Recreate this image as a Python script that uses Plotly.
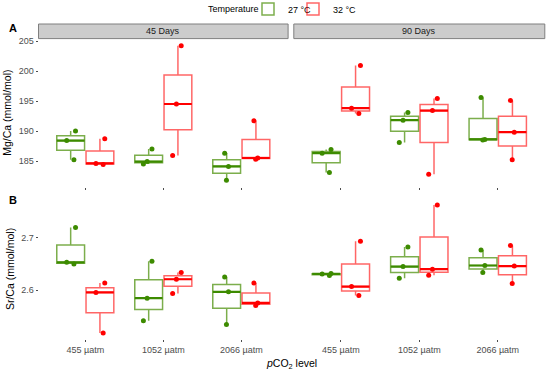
import plotly.graph_objects as go

cats = ["455 µatm", "1052 µatm", "2066 µatm"]
temps = ["27 °C", "32 °C"]
days = ["45 Days", "90 Days"]

# Mg/Ca values: [cat] -> 3 replicates
mg_45_27 = [[185.2, 188.4, 190.0], [184.5, 184.9, 187.0], [181.8, 184.1, 186.3]]
mg_45_32 = [[184.4, 184.6, 188.7], [185.9, 194.5, 204.2], [185.3, 185.5, 191.7]]
mg_90_27 = [[183.1, 186.3, 186.9], [188.1, 191.8, 193.1], [188.5, 188.6, 195.6]]
mg_90_32 = [[192.9, 193.8, 200.9], [182.8, 193.4, 195.4], [185.2, 189.8, 195.1]]

# Sr/Ca values
sr_45_27 = [[2.650, 2.653, 2.719], [2.542, 2.585, 2.655], [2.535, 2.597, 2.625]]
sr_45_32 = [[2.519, 2.596, 2.614], [2.594, 2.621, 2.634], [2.571, 2.576, 2.614]]
sr_90_27 = [[2.628, 2.631, 2.632], [2.623, 2.645, 2.682], [2.634, 2.647, 2.6765]]
sr_90_32 = [[2.590, 2.607, 2.693], [2.6285, 2.640, 2.762], [2.613, 2.646, 2.685]]

point_col = {"27 °C": "#3D8B00", "32 °C": "#FF0000"}
line_col = {"27 °C": "rgba(69,139,0,0.7)", "32 °C": "rgba(255,0,0,0.6)"}
legend_ref = {"27 °C": "legend", "32 °C": "legend2"}

panels = [
    (mg_45_27, mg_45_32, "x", "y"),
    (mg_90_27, mg_90_32, "x2", "y"),
    (sr_45_27, sr_45_32, "x3", "y2"),
    (sr_90_27, sr_90_32, "x4", "y2"),
]

fig = go.Figure()
first = True
for d27, d32, xa, ya in panels:
    for temp, data in zip(temps, [d27, d32]):
        xs, ys = [], []
        for c, vals in zip(cats, data):
            xs += [c] * len(vals)
            ys += vals
        fig.add_trace(go.Box(
            x=xs, y=ys, xaxis=xa, yaxis=ya, name=temp, legendgroup=temp,
            legend=legend_ref[temp],
            offsetgroup=temp, showlegend=first,
            boxpoints="all", jitter=0.45, pointpos=0,
            fillcolor="rgba(255,255,255,0)",
            line=dict(color=line_col[temp], width=1.5),
            marker=dict(color=point_col[temp], size=5),
            quartilemethod="inclusive", whiskerwidth=0,
        ))
        # thicker median line overlay
        meds = [sorted(v)[1] for v in data]
        fig.add_trace(go.Box(
            x=cats, q1=meds, median=meds, q3=meds, lowerfence=meds, upperfence=meds,
            xaxis=xa, yaxis=ya, name=temp, legendgroup=temp, offsetgroup=temp,
            legend=legend_ref[temp],
            showlegend=False, fillcolor="rgba(0,0,0,0)",
            line=dict(color=point_col[temp], width=2.2), hoverinfo="skip",
        ))
    first = False

W, H = 550, 371
def fx(p):
    return p / W
def fy(p):
    return 1 - p / H

xd1 = [fx(38.5), fx(288.1)]
xd2 = [fx(293.8), fx(544.8)]
yA = [fy(186.8), fy(38.6)]
yB = [fy(339.3), fy(198.6)]

tickfont = dict(family="Liberation Sans", size=9, color="#4D4D4D")
common_x = dict(type="category", categoryorder="array", categoryarray=cats,
                range=[-0.6, 2.6], showgrid=False, zeroline=False, showline=False,
                ticks="outside", ticklen=2, tickcolor="#4D4D4D")

legend_common = dict(orientation="h", yanchor="middle", y=fy(9), xanchor="left",
                     font=dict(size=9), itemwidth=30, valign="middle",
                     bgcolor="rgba(0,0,0,0)")

fig.update_layout(
    width=W, height=H, margin=dict(l=0, r=0, t=0, b=0, autoexpand=False),
    plot_bgcolor="white", paper_bgcolor="white",
    boxmode="group", boxgap=0.25, boxgroupgap=0.05,
    font=dict(family="Liberation Sans", color="black"),
    xaxis=dict(domain=xd1, anchor="y", showticklabels=False, **common_x),
    xaxis2=dict(domain=xd2, anchor="y", showticklabels=False, **common_x),
    xaxis3=dict(domain=xd1, anchor="y2", tickfont=tickfont, **common_x),
    xaxis4=dict(domain=xd2, anchor="y2", tickfont=tickfont, **common_x),
    yaxis=dict(domain=yA, anchor="x", range=[180.7, 205.4], tickvals=[185, 190, 195, 200, 205],
               showgrid=False, zeroline=False, ticks="outside", ticklen=2, tickcolor="#4D4D4D",
               tickfont=tickfont,
               title=dict(text="Mg/Ca (mmol/mol)", font=dict(size=10.5), standoff=4)),
    yaxis2=dict(domain=yB, anchor="x3", range=[2.507, 2.774], tickvals=[2.6, 2.7],
                tickformat=".1f",
                showgrid=False, zeroline=False, ticks="outside", ticklen=2, tickcolor="#4D4D4D",
                tickfont=tickfont,
                title=dict(text="Sr/Ca (mmol/mol)", font=dict(size=10.5), standoff=4)),
    legend=dict(x=fx(248), **legend_common),
    legend2=dict(x=fx(293), **legend_common),
    showlegend=True,
)

fig.add_annotation(xref="paper", yref="paper", x=fx(261), y=fy(9), text="Temperature",
                   showarrow=False, font=dict(size=9), xanchor="right", yanchor="middle")

# facet strips
for xd, lab in zip([xd1, xd2], days):
    fig.add_shape(type="rect", xref="paper", yref="paper", x0=xd[0], x1=xd[1],
                  y0=fy(38.6), y1=fy(24), fillcolor="#CCCCCC",
                  line=dict(color="#7F7F7F", width=1))
    fig.add_annotation(xref="paper", yref="paper", x=(xd[0] + xd[1]) / 2, y=fy(31.3),
                       text=lab, showarrow=False, font=dict(size=9, color="#1A1A1A"),
                       xanchor="center", yanchor="middle")

fig.add_annotation(xref="paper", yref="paper", x=fx(7), y=fy(28), text="<b>A</b>",
                   showarrow=False, font=dict(size=11), xanchor="left", yanchor="middle")
fig.add_annotation(xref="paper", yref="paper", x=fx(7), y=fy(200), text="<b>B</b>",
                   showarrow=False, font=dict(size=11), xanchor="left", yanchor="middle")
fig.add_annotation(xref="paper", yref="paper", x=fx(291), y=fy(355),
                   text="<i>p</i>CO<sub>2</sub> level", showarrow=False,
                   font=dict(size=10.5), xanchor="center", yanchor="top")

fig.write_html("out.html", config={"displayModeBar": False},
               post_script="document.body.style.margin='0px';")
